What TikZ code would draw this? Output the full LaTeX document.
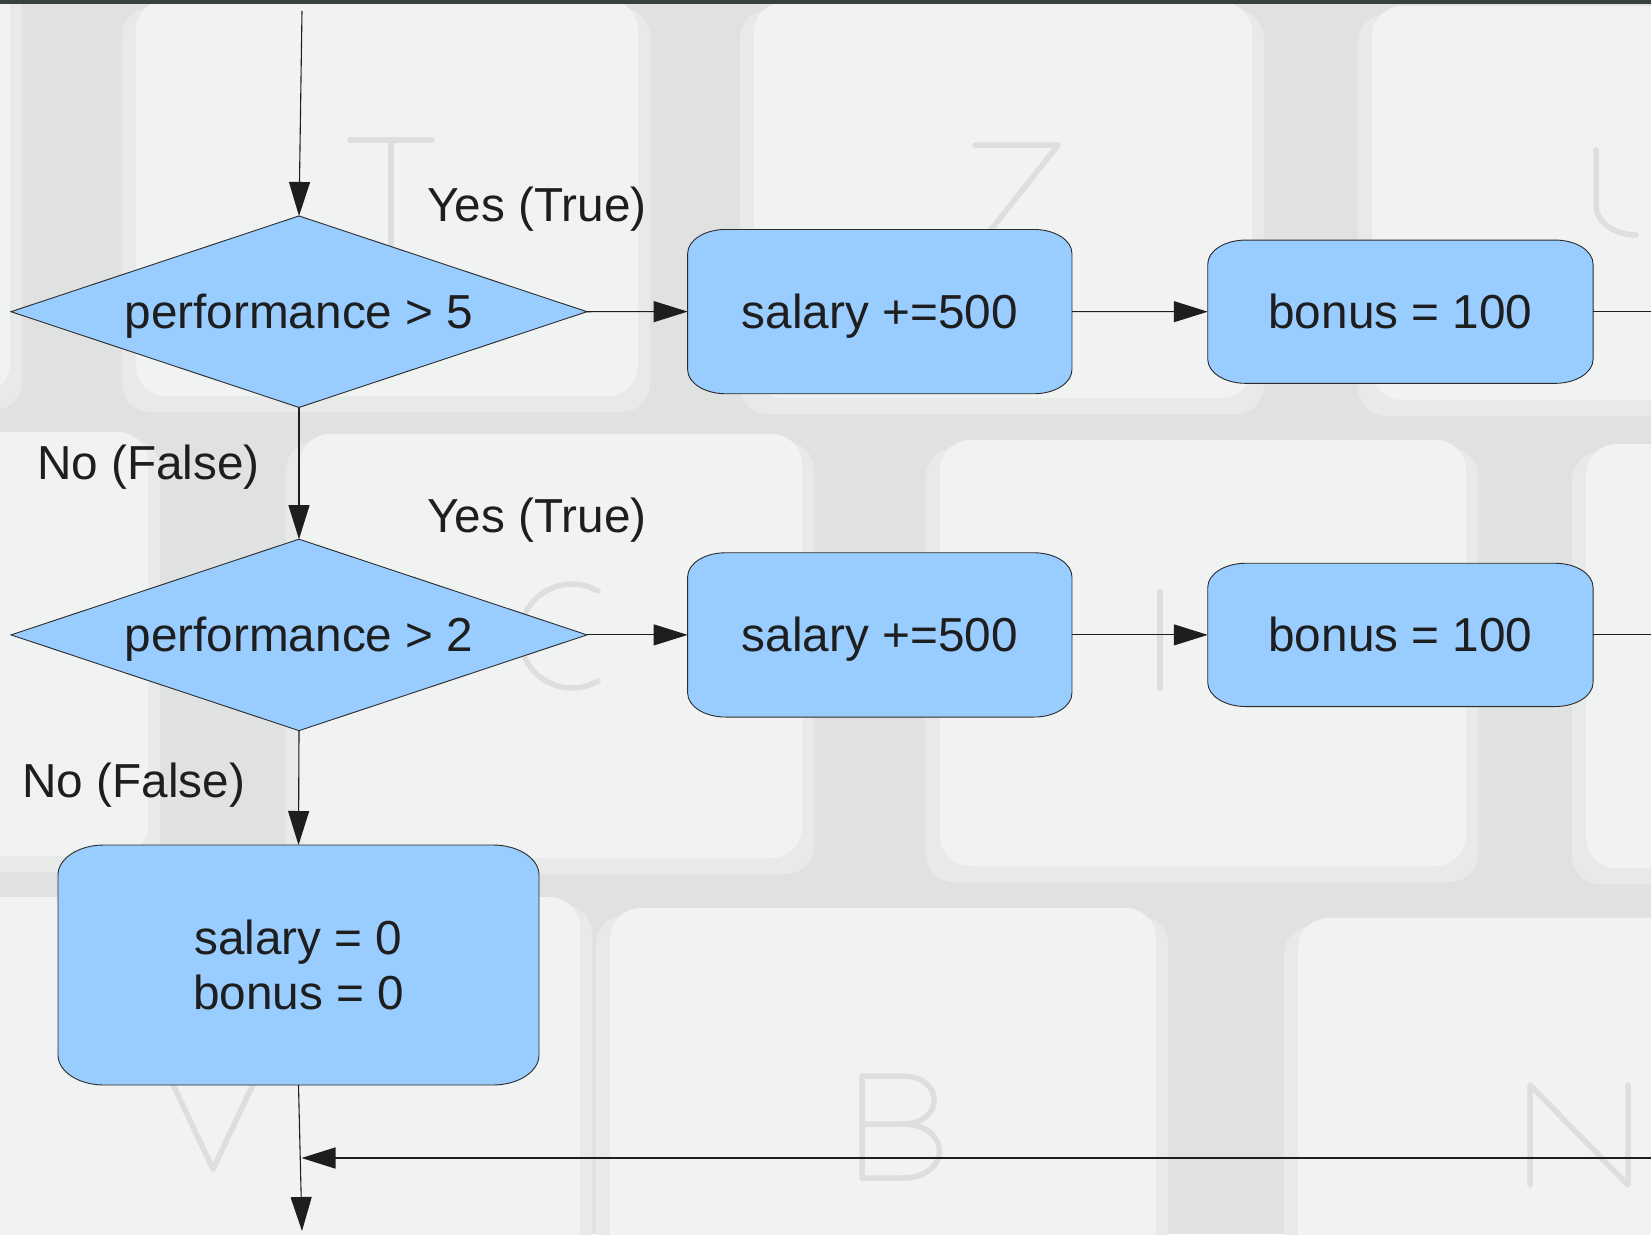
\documentclass[tikz,border=0pt]{standalone}
\usepackage{fontspec}
\setmainfont{Liberation Sans}
\usetikzlibrary{shapes.geometric,arrows.meta}

\pgfdeclarelayer{keys}
\pgfdeclarelayer{shapes}
\pgfsetlayers{keys,shapes,main}

\definecolor{boxblue}{HTML}{99CCFF}
\definecolor{boxedge}{HTML}{2B2B2B}
\definecolor{inkdark}{HTML}{1E1E1E}
\definecolor{keygap}{HTML}{E0E2E1}
\definecolor{keyskirt}{HTML}{E8EAE9}
\definecolor{keyface}{HTML}{F1F3F2}
\definecolor{keyglyph}{HTML}{DCDFDE}
\definecolor{topbar}{HTML}{37423E}

\tikzset{
  flowtext/.style={font=\fontsize{47.7pt}{55pt}\selectfont, text=inkdark},
  oneline/.style={text height=36pt, text depth=2pt},
  decision/.style={shape=diamond, aspect=3, fill=boxblue, draw=boxedge,
    line width=0.9pt, inner sep=0pt, outer sep=0pt,
    minimum width=576pt, minimum height=191.5pt, flowtext, oneline},
  procnode/.style={shape=rectangle, inner sep=0pt, outer sep=0pt, flowtext,
    align=center},
  flowlabel/.style={flowtext, inner sep=0pt},
  flow/.style={line width=1.1pt, draw=inkdark,
    -{Triangle[length=34pt,width=21pt]}},
  plainflow/.style={line width=1.1pt, draw=inkdark},
  keybody/.style={fill=keyskirt, rounded corners=28pt},
  keytop/.style={fill=keyface, rounded corners=30pt},
  glyph/.style={draw=keyglyph, line width=5.5pt, line cap=round, line join=round},
}

% rounded box with elliptical corners, drawn around a named node
\newcommand\ovalbox[3]{%
  \filldraw[fill=boxblue, draw=boxedge, line width=0.9pt]
    ([xshift=#2]#1.north west) -- ([xshift=-#2]#1.north east)
    arc[start angle=90, end angle=0, x radius=#2, y radius=#3]
    -- ([yshift=#3]#1.south east)
    arc[start angle=0, end angle=-90, x radius=#2, y radius=#3]
    -- ([xshift=#2]#1.south west)
    arc[start angle=270, end angle=180, x radius=#2, y radius=#3]
    -- ([yshift=-#3]#1.north west)
    arc[start angle=180, end angle=90, x radius=#2, y radius=#3] -- cycle;}

% a keycap: skirt and top face
\newcommand\keycap[4]{%
  \fill[keybody] (#1,#2) rectangle (#3,#4);
  \fill[keytop] ({#1+14},{#2-8}) rectangle ({#3-12},{#4-16});}

\begin{document}
\begin{tikzpicture}[x=1pt, y=-1pt]
\useasboundingbox (0,0) rectangle (1651,1234);

% keyboard backdrop
\begin{pgfonlayer}{keys}
\begin{scope}
  \clip (0,0) rectangle (1651,1234);
  \fill[keygap] (0,0) rectangle (1651,1234);
  % upper row
  \keycap{-200}{-40}{22}{410}
  \keycap{122}{8}{650}{412}
  \keycap{740}{10}{1264}{414}
  \keycap{1358}{14}{1900}{416}
  % middle row
  \keycap{-200}{440}{160}{872}
  \keycap{286}{442}{814}{874}
  \keycap{926}{448}{1478}{882}
  \keycap{1572}{452}{1900}{884}
  % lower row
  \keycap{-200}{905}{592}{1400}
  \keycap{596}{916}{1168}{1400}
  \keycap{1284}{926}{1900}{1400}
  % printed letters
  \draw[glyph] (350,140) -- (432,140) (391,140) -- (391,245);
  \draw[glyph] (975,145) -- (1058,145) -- (975,250) -- (1060,250);
  \draw[glyph] (1596,150) -- (1596,205) arc[start angle=180, end angle=270, x radius=40pt, y radius=30pt];
  \draw[glyph] (572,636) ++(60:52pt) arc[start angle=60, end angle=300, radius=52pt];
  \draw[glyph] (1160,592) -- (1160,688);
  \draw[glyph] (168,1074) -- (213,1169) -- (258,1074);
  \draw[glyph] (862,1178) -- (862,1076) -- (902,1076)
    .. controls (945,1076) and (945,1124) .. (902,1124) -- (862,1124)
    (902,1124) .. controls (952,1124) and (952,1178) .. (902,1178) -- (862,1178);
  \draw[glyph] (1530,1185) -- (1530,1085) -- (1628,1185) -- (1628,1085);
  % dark strip along the top edge
  \fill[topbar] (0,0) rectangle (1651,4);
\end{scope}
\end{pgfonlayer}

% decisions
\node[decision] (d1) at (299,311.7) {performance > 5};
\node[decision] (d2) at (299,634.9) {performance > 2};

% process boxes
\node[procnode, oneline, minimum width=384.3pt, minimum height=164.3pt] (s1) at (879.8,311.6) {salary +=500};
\node[procnode, oneline, minimum width=385.3pt, minimum height=143.3pt] (b1) at (1400.4,311.7) {bonus = 100};
\node[procnode, oneline, minimum width=384.3pt, minimum height=164.3pt] (s2) at (879.8,634.9) {salary +=500};
\node[procnode, oneline, minimum width=385.3pt, minimum height=143.3pt] (b2) at (1400.4,634.9) {bonus = 100};
\node[procnode, minimum width=481pt, minimum height=240pt] (z) at (298.5,965) {salary = 0\\bonus = 0};

\begin{pgfonlayer}{shapes}
  \ovalbox{s1}{38pt}{24pt}
  \ovalbox{b1}{38pt}{24pt}
  \ovalbox{s2}{38pt}{24pt}
  \ovalbox{b2}{38pt}{24pt}
  \ovalbox{z}{46pt}{30pt}
\end{pgfonlayer}

% branch labels
\node[flowlabel] (yes1) at (537,209) {Yes (True)};
\node[flowlabel] (no1) at (148.5,467) {No (False)};
\node[flowlabel] (yes2) at (537,520) {Yes (True)};
\node[flowlabel] (no2) at (133.7,785) {No (False)};

% loose ends
\coordinate (entry) at (302,11);
\coordinate (r1) at (1651,311.7);
\coordinate (r2) at (1651,634.9);
\coordinate (join) at (301.5,1158);
\coordinate (rback) at (1651,1158);
\coordinate (exit) at (302,1231);

% connectors
\draw[flow] (entry) -- (d1.north);
\draw[flow] (d1.east) -- (s1.west);
\draw[flow] (s1.east) -- (b1.west);
\draw[plainflow] (b1.east) -- (r1);
\draw[flow] (d1.south) -- (d2.north);
\draw[flow] (d2.east) -- (s2.west);
\draw[flow] (s2.east) -- (b2.west);
\draw[plainflow] (b2.east) -- (r2);
\draw[flow] (d2.south) -- (z.north);
\draw[flow] (z.south) -- (exit);
\draw[flow, line width=1.5pt] (rback) -- (join);
\end{tikzpicture}
\end{document}
